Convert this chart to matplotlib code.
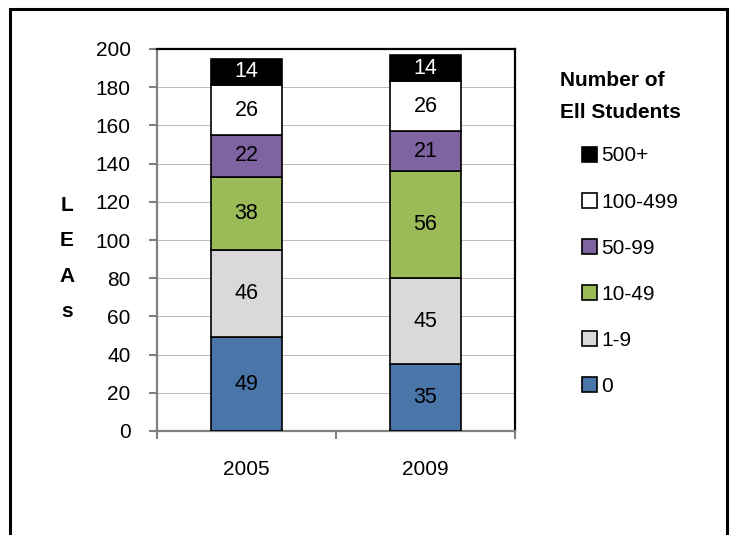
import matplotlib
matplotlib.use("Agg")
import matplotlib.pyplot as plt
from matplotlib.patches import Rectangle, Patch
import numpy as np

years = ["2005", "2009"]
groups = ["0", "1-9", "10-49", "50-99", "100-499", "500+"]
values = {
    "0": [49, 35],
    "1-9": [46, 45],
    "10-49": [38, 56],
    "50-99": [22, 21],
    "100-499": [26, 26],
    "500+": [14, 14],
}
colors = {
    "0": "#4A75A9",
    "1-9": "#D9D9D9",
    "10-49": "#9BBB59",
    "50-99": "#8064A2",
    "100-499": "#FFFFFF",
    "500+": "#000000",
}
text_colors = {"500+": "white"}
yticks = [0, 20, 40, 60, 80, 100, 120, 140, 160, 180, 200]

plt.rcParams['font.family'] = ['Liberation Sans Narrow', 'Liberation Sans', 'DejaVu Sans']

W, H = 731, 535
fig = plt.figure(figsize=(W / 100, H / 100), dpi=100)

# figure frame
fig.patches.append(Rectangle((10 / W, -0.1), 717 / W, 1 - 9 / H + 0.1,
                             transform=fig.transFigure, fill=False,
                             edgecolor="black", linewidth=2.2, zorder=0))

ax = fig.add_axes([157 / W, 1 - 431 / H, (515 - 157) / W, (431 - 49) / H])

x = np.arange(len(years))
bottom = np.zeros(len(years))
bar_w = 0.40
for g in groups:
    v = np.array(values[g], dtype=float)
    bars = ax.bar(x, v, bar_w, bottom=bottom, color=colors[g],
                  edgecolor="black", linewidth=1.2, zorder=3)
    ax.bar_label(bars, labels=[str(int(i)) for i in v], label_type="center",
                 fontsize=15.5, color=text_colors.get(g, "black"))
    bottom += v

ax.set_xlim(-0.5, 1.5)
ax.set_ylim(0, 200)
ax.set_yticks(yticks)
ax.set_yticklabels([str(t) for t in yticks], fontsize=15)
ax.tick_params(axis="y", direction="out", length=6, width=1.5, color="#808080", pad=13)
ax.yaxis.grid(True, color="#B0B0B0", linewidth=0.6, zorder=0)
ax.set_axisbelow(True)

ax.set_xticks([-0.5, 0.5, 1.5])
ax.set_xticklabels([])
ax.tick_params(axis="x", which="major", direction="out", length=6, width=1.5, color="#808080")
ax.set_xticks(x, minor=True)
ax.set_xticklabels(years, minor=True, fontsize=15)
ax.tick_params(axis="x", which="minor", length=0, pad=21)

for s in ["left", "bottom"]:
    ax.spines[s].set_color("#808080")
    ax.spines[s].set_linewidth(1.6)
for s in ["top", "right"]:
    ax.spines[s].set_color("black")
    ax.spines[s].set_linewidth(1.6)

ax.set_ylabel("L\nE\nA\ns", rotation=0, fontsize=15, fontweight="bold",
              linespacing=2.1, va="center", ha="center")
ax.yaxis.set_label_coords((67 - 157) / 358, (431 - 258.5) / 382)

fig.text(560 / W, 1 - 71 / H, "Number of\nEll Students", fontsize=15,
         fontweight="bold", ha="left", va="top", linespacing=1.85)

handles = [Patch(facecolor=colors[g], edgecolor="black", linewidth=1.2)
           for g in groups[::-1]]
leg = fig.legend(handles, groups[::-1], loc="upper left",
                 bbox_to_anchor=(572 / W, 1 - 136 / H), frameon=False,
                 fontsize=15, handlelength=0.72, handleheight=0.72,
                 handletextpad=0.2, labelspacing=1.3, borderpad=0)

fig.savefig("out.png", dpi=100)
